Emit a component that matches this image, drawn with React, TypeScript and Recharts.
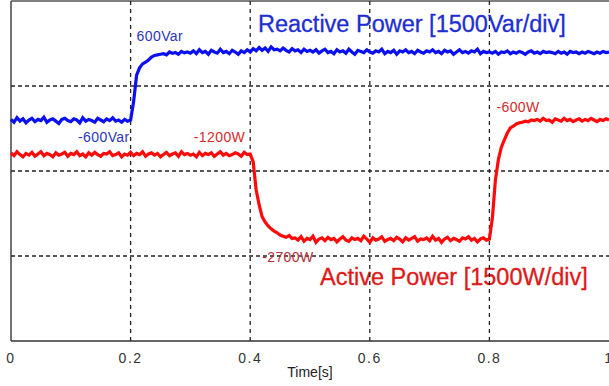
import React from 'react';
import {
    LineChart, Line, XAxis, YAxis, ReferenceLine, ReferenceDot
} from 'recharts';

// sample grid of the scope capture
const SAMPLE_STEP = 0.005;

// reactive power trace [Var]
const reactivePower = [
    -590, -640, -560, -620, -580, -650, -600, -570, -630, -590, -610, -550, -640, -600, -580, -620, -660, -590, -570, -610,
    -630, -580, -600, -650, -560, -620, -590, -610, -640, -570, -600, -630, -580, -610, -560, -620, -600, -640, -590, -620,
    -600,
    -280, 190, 320, 390, 420, 460, 510, 540, 550, 560,
    570, 550, 600, 575, 590, 560, 610, 585, 600, 580,
    620, 570, 640, 590, 610, 560, 630, 600, 580, 650, 590, 610, 570, 630, 600, 560, 620, 590, 640, 600,
    660, 620, 680, 630, 670, 610, 690, 640, 650, 620, 670, 630, 600, 660, 620, 640, 590, 650, 610, 630,
    600, 640, 580, 620, 650, 590, 610, 570, 640, 600, 620, 580, 650, 600, 560, 630, 610, 590, 640, 600,
    580, 620, 600, 650, 570, 610, 590, 630, 560, 620, 600, 640, 590, 610, 570, 630, 600, 580, 620, 600,
    640, 590, 610, 570, 630, 600, 620, 560, 600, 640, 590, 610, 580, 620, 600, 650, 570, 610, 590, 600,
    580, 610, 560, 600, 590, 620, 570, 600, 580, 610, 590, 560, 600, 620, 580, 600, 570, 610, 590, 600,
    590, 570, 610, 580, 600, 560, 610, 590, 600, 570, 600, 580, 610, 590, 570, 600, 580, 610, 590, 600,
];

// active power trace [W]
const activePower = [
    -1180, -1230, -1160, -1210, -1250, -1190, -1220, -1170, -1240, -1200, -1160, -1230, -1190, -1210, -1250, -1180, -1220, -1200, -1170, -1240,
    -1190, -1210, -1160, -1230, -1200, -1250, -1180, -1220, -1170, -1210, -1240, -1190, -1200, -1160, -1230, -1210, -1180, -1250, -1200, -1220,
    -1170, -1230, -1190, -1210, -1160, -1240, -1200, -1180, -1220, -1190, -1250, -1210, -1170, -1230, -1200, -1180, -1240, -1160, -1210, -1190,
    -1220, -1200, -1250, -1170, -1230, -1190, -1210, -1180, -1240, -1200, -1160, -1220, -1190, -1230, -1210, -1180, -1200, -1240, -1170, -1210,
    -1200,
    -1340, -1835, -2100, -2310, -2400, -2470, -2520, -2560, -2590, -2630, -2650, -2670, -2640, -2690, -2680,
    -2720, -2660, -2740, -2690, -2710, -2650, -2760, -2700, -2680, -2730,
    -2670, -2710, -2690, -2750, -2700, -2660, -2720, -2740, -2680, -2710,
    -2690, -2730, -2650, -2700, -2760, -2680, -2720, -2700, -2660, -2740,
    -2710, -2690, -2730, -2670, -2700, -2750, -2680, -2720, -2690, -2660,
    -2740, -2700, -2710, -2680, -2730, -2650, -2720, -2690, -2760, -2700,
    -2670, -2730, -2690, -2710, -2740, -2680, -2700, -2660, -2720, -2690,
    -2750, -2700, -2680, -2720, -2700,
    -2330, -1660, -1300, -1080, -950, -830, -740, -710, -670, -650, -640, -620, -630, -600, -610,
    -590, -620, -570, -610, -600, -640, -580, -600, -620, -570, -610, -590, -630, -600, -580, -620, -590, -610, -570, -600,
    -630, -590, -610, -580, -600,
];

const timeTicks = [0, 0.2, 0.4, 0.6, 0.8, 1];
const gridLevels = [0, -1500, -3000];
const yDomain = [-4500, 1500];

// level annotations: value, time, text, colour, pixel offset of the text
const notes = [
    { t: 0.2, v: 600, text: '600Var', color: '#2b35b8', dx: 6, dy: -11, anchor: 'start' },
    { t: 0.2, v: -600, text: '-600Var', color: '#2b35b8', dx: -1, dy: 22, anchor: 'end' },
    { t: 0.4, v: -1200, text: '-1200W', color: '#d42a2a', dx: -5, dy: -12, anchor: 'end' },
    { t: 0.8, v: -600, text: '-600W', color: '#d42a2a', dx: 7, dy: -8, anchor: 'start' },
    { t: 0.4, v: -2700, text: '-2700W', color: '#b83040', dx: 12, dy: 23, anchor: 'start' },
];

const data = reactivePower.map((q, i) => ({
    t: +(i * SAMPLE_STEP).toFixed(3),
    q,
    p: activePower[i],
}));

const FONT = "'Liberation Sans', Arial, sans-serif";

const NoteLabel = ({ viewBox, note }: any) => {
    const { cx, cy } = viewBox || {};
    const x = cx ?? viewBox.x;
    const y = cy ?? viewBox.y;
    return (
        <text
            x={x + note.dx}
            y={y + note.dy}
            textAnchor={note.anchor}
            fill={note.color}
            fontSize={14}
            fontFamily={FONT}
            letterSpacing={0.4}
        >
            {note.text}
        </text>
    );
};

export default function App() {
    return (
        <div style={{ width: 609, height: 386, background: '#fff' }}>
            <style>{'body{margin:0;background:#fff}'}</style>
            <LineChart
                width={609}
                height={386}
                data={data}
                margin={{ top: 1, right: 0, left: 11, bottom: 0 }}
            >
                <XAxis
                    dataKey="t"
                    type="number"
                    domain={[0, 1]}
                    ticks={timeTicks}
                    tickFormatter={(v) => String(v)}
                    height={45}
                    tickLine={false}
                    axisLine={{ stroke: '#333', strokeWidth: 1.5 }}
                    tick={{ fill: '#333', fontSize: 14, fontFamily: FONT, letterSpacing: 1.5 }}
                    tickMargin={6}
                    interval={0}
                    label={{
                        value: 'Time[s]',
                        position: 'insideBottom',
                        offset: 9,
                        fill: '#222',
                        fontSize: 14,
                        fontFamily: FONT,
                    }}
                />
                <YAxis type="number" domain={yDomain} hide width={0} allowDataOverflow />

                {/* scope frame */}
                <ReferenceLine y={1500} stroke="#555" strokeWidth={1.5} />
                <ReferenceLine x={0} stroke="#444" strokeWidth={1.5} />

                {/* dashed divisions */}
                {gridLevels.map((v) => (
                    <ReferenceLine key={`h-${v}`} y={v} stroke="#222" strokeWidth={1.3} strokeDasharray="4 3" />
                ))}
                {timeTicks.slice(1, -1).map((t) => (
                    <ReferenceLine key={`v-${t}`} x={t} stroke="#222" strokeWidth={1.3} strokeDasharray="4 4" />
                ))}

                <Line
                    type="linear"
                    dataKey="q"
                    stroke="#0a10f0"
                    strokeWidth={3.2}
                    dot={false}
                    isAnimationActive={false}
                />
                <Line
                    type="linear"
                    dataKey="p"
                    stroke="#ff0a0a"
                    strokeWidth={3.2}
                    dot={false}
                    isAnimationActive={false}
                />

                {notes.map((n) => (
                    <ReferenceDot
                        key={n.text}
                        x={n.t}
                        y={n.v}
                        r={0}
                        stroke="none"
                        fill="none"
                        label={<NoteLabel note={n} />}
                    />
                ))}

                <text x={258} y={32} fill="#1e2ed2" stroke="#1e2ed2" strokeWidth={0.3} fontSize={23.5} fontFamily={FONT}>
                    Reactive Power [1500Var/div]
                </text>
                <text x={320} y={285} fill="#e01818" stroke="#e01818" strokeWidth={0.3} fontSize={23.5} fontFamily={FONT}>
                    Active Power [1500W/div]
                </text>
            </LineChart>
        </div>
    );
}
